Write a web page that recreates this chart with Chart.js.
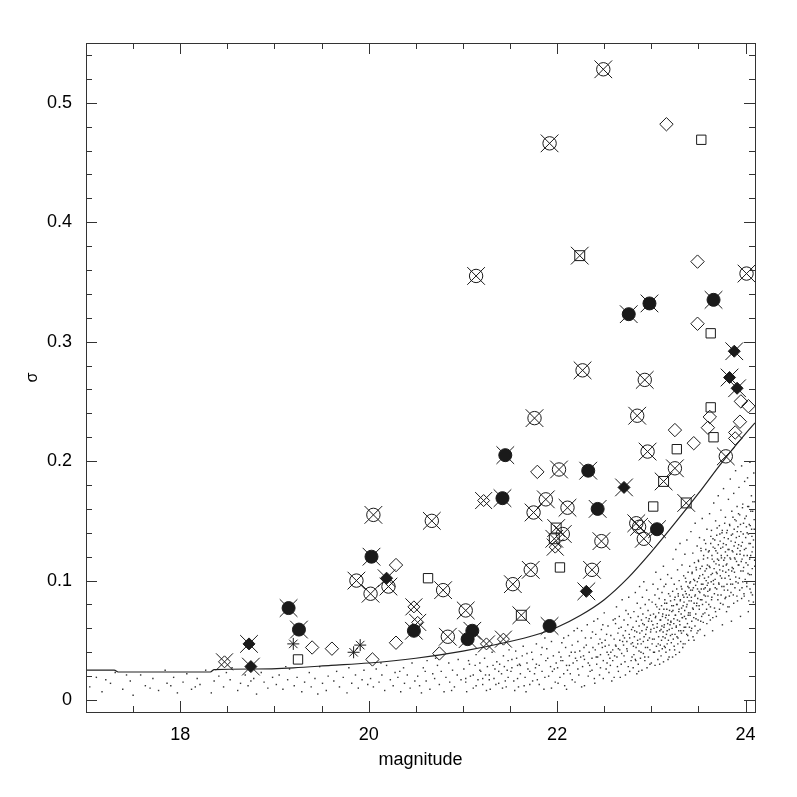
<!DOCTYPE html>
<html>
<head>
<meta charset="utf-8">
<script src="https://cdn.jsdelivr.net/npm/chart.js@4.4.1/dist/chart.umd.min.js"></script>
<style>
  html, body { margin: 0; padding: 0; background: #fff; }
</style>
</head>
<body>
<canvas id="sigmaChart" width="797" height="797"></canvas>
<script>
// axis ticks
const xTickValues = [17.5, 18, 18.5, 19, 19.5, 20, 20.5, 21, 21.5, 22, 22.5, 23, 23.5, 24];
const xLabelValues = [18, 20, 22, 24];
const yTickValues = [0, 0.02, 0.04, 0.06, 0.08, 0.1, 0.12, 0.14, 0.16, 0.18, 0.2, 0.22, 0.24, 0.26,
  0.28, 0.3, 0.32, 0.34, 0.36, 0.38, 0.4, 0.42, 0.44, 0.46, 0.48, 0.5, 0.52, 0.54];
const yLabelValues = [0, 0.1, 0.2, 0.3, 0.4, 0.5];

// expected sigma curve
const curveMag = [17.0, 17.30, 17.34, 18.32, 18.36, 18.8, 19.2, 19.6, 20.0, 20.5, 21.0, 21.5, 21.75,
  22.0, 22.25, 22.5, 22.75, 23.0, 23.25, 23.5, 23.75, 24.0, 24.1];
const curveSigma = [0.025, 0.025, 0.0235, 0.0235, 0.0255, 0.026, 0.027, 0.029, 0.031, 0.035, 0.041, 0.049,
  0.054, 0.061, 0.071, 0.084, 0.102, 0.124, 0.148, 0.173, 0.199, 0.223, 0.232];

// marker groups [magnitude, sigma]
const crossedCircles = [[22.49, 0.528], [21.92, 0.466], [21.14, 0.355], [22.27, 0.276], [24.01, 0.357],
  [22.93, 0.268], [22.85, 0.238], [21.76, 0.236], [22.02, 0.193], [21.88, 0.168], [21.75, 0.157],
  [22.11, 0.161], [22.06, 0.139], [22.47, 0.133], [20.05, 0.155], [20.67, 0.150], [19.87, 0.100],
  [20.21, 0.095], [20.02, 0.089], [20.79, 0.092], [21.72, 0.109], [21.53, 0.097], [22.37, 0.109],
  [21.03, 0.075], [20.84, 0.053], [22.96, 0.208], [23.79, 0.204], [23.25, 0.194], [22.84, 0.148],
  [22.87, 0.145], [22.92, 0.135]];
const filledCircles = [[21.45, 0.205], [22.33, 0.192], [21.42, 0.169], [22.43, 0.160], [20.03, 0.120],
  [19.15, 0.077], [19.26, 0.059], [20.48, 0.058], [21.10, 0.058], [21.05, 0.051], [21.92, 0.062],
  [23.06, 0.143], [23.66, 0.335], [22.98, 0.332], [22.76, 0.323]];
const filledDiamonds = [[18.73, 0.047], [18.75, 0.028], [20.19, 0.102], [22.31, 0.091], [22.71, 0.178],
  [23.88, 0.292], [23.83, 0.270], [23.91, 0.261]];
const openDiamonds = [[23.16, 0.482], [23.49, 0.367], [23.49, 0.315], [21.79, 0.191], [20.29, 0.113],
  [20.29, 0.048], [20.75, 0.039], [20.04, 0.034], [19.40, 0.044], [19.61, 0.043], [23.95, 0.250],
  [24.03, 0.246], [23.62, 0.237], [23.94, 0.233], [23.60, 0.228], [23.89, 0.224], [23.89, 0.219],
  [23.25, 0.226], [23.45, 0.215]];
const openSquares = [[23.53, 0.469], [23.63, 0.307], [20.63, 0.102], [22.03, 0.111], [19.25, 0.034],
  [23.63, 0.245], [23.66, 0.220], [23.27, 0.210], [23.02, 0.162]];
const crossedSquares = [[22.24, 0.372], [21.99, 0.144], [21.97, 0.135], [21.62, 0.071], [23.13, 0.183],
  [23.37, 0.165]];
const crossedDiamonds = [[18.47, 0.032], [21.22, 0.167], [21.98, 0.128], [20.48, 0.078], [20.52, 0.065],
  [21.25, 0.047], [21.43, 0.051]];
const stars = [[19.20, 0.047], [19.91, 0.046], [19.84, 0.040]];

// faint field objects under the curve
const fieldDots = [
  [17.04, .011], [17.11, .019], [17.17, .007], [17.26, .014], [17.31, .023], [17.39, .009], [17.47, .016],
  [17.5, .004], [17.58, .021], [17.63, .012], [17.71, .018], [17.77, .008], [17.84, .025], [17.86, .014],
  [17.93, .019], [17.97, .006], [17.21, .017], [17.68, .010], [17.43, .021], [17.9, .012],
  [18.03, .015], [18.07, .022], [18.12, .009], [18.18, .018], [18.21, .013], [18.27, .025], [18.33, .006],
  [18.36, .016], [18.41, .020], [18.46, .011], [18.53, .017], [18.55, .027], [18.61, .008], [18.64, .014],
  [18.69, .021], [18.72, .012], [18.78, .018], [18.81, .005], [18.86, .023], [18.89, .015], [18.93, .010],
  [18.98, .019], [18.16, .011], [18.49, .023], [18.75, .016],
  [19.02, .013], [19.05, .021], [19.09, .009], [19.14, .017], [19.16, .026], [19.21, .012], [19.24, .019],
  [19.29, .007], [19.32, .015], [19.37, .023], [19.39, .011], [19.43, .018], [19.48, .028], [19.51, .014],
  [19.55, .008], [19.57, .020], [19.63, .016], [19.66, .024], [19.69, .011], [19.73, .019], [19.77, .006],
  [19.79, .027], [19.82, .014], [19.86, .021], [19.89, .010], [19.93, .017], [19.95, .025], [19.99, .013],
  [19.46, .005], [19.12, .028],
  [20.02, .018], [20.05, .011], [20.08, .026], [20.11, .015], [20.14, .021], [20.17, .008], [20.19, .029],
  [20.23, .017], [20.26, .012], [20.28, .023], [20.31, .019], [20.34, .007], [20.37, .027], [20.38, .014],
  [20.41, .021], [20.44, .010], [20.46, .031], [20.49, .016], [20.13, .031], [20.33, .024],
  [20.52, .020], [20.54, .012], [20.58, .027], [20.61, .016], [20.62, .033], [20.65, .009], [20.68, .022],
  [20.7, .018], [20.73, .029], [20.75, .013], [20.77, .024], [20.8, .007], [20.82, .019], [20.85, .031],
  [20.86, .015], [20.89, .025], [20.91, .011], [20.94, .021], [20.95, .034], [20.98, .017], [20.56, .006],
  [20.71, .035], [20.88, .008], [20.6, .024],
  [21.01, .026], [21.03, .015], [21.06, .033], [21.08, .020], [21.11, .010], [21.13, .029], [21.14, .038],
  [21.16, .017], [21.19, .024], [21.21, .013], [21.23, .035], [21.24, .021], [21.26, .028], [21.29, .009],
  [21.31, .040], [21.33, .018], [21.34, .026], [21.36, .032], [21.38, .014], [21.41, .022], [21.43, .037],
  [21.44, .028], [21.46, .011], [21.48, .019], [21.49, .042], [21.04, .007], [21.18, .031], [21.28, .017],
  [21.39, .030], [21.47, .025],
  [21.51, .024], [21.52, .034], [21.54, .016], [21.56, .041], [21.58, .029], [21.59, .011], [21.61, .022],
  [21.63, .037], [21.64, .045], [21.66, .019], [21.68, .031], [21.69, .026], [21.71, .013], [21.73, .040],
  [21.74, .034], [21.76, .022], [21.78, .047], [21.79, .017], [21.81, .029], [21.83, .038], [21.84, .024],
  [21.86, .009], [21.88, .033], [21.89, .043], [21.91, .020], [21.93, .028], [21.94, .049], [21.96, .037],
  [21.98, .015], [21.99, .031], [21.57, .035], [21.67, .007], [21.77, .027], [21.87, .052], [21.6, .030],
  [21.95, .024],
  [22.005, .027], [22.02, .040], [22.03, .019], [22.05, .048], [22.06, .033], [22.08, .012], [22.09, .044],
  [22.1, .029], [22.12, .054], [22.13, .037], [22.14, .022], [22.16, .046], [22.17, .031], [22.18, .058],
  [22.19, .015], [22.04, .036], [22.11, .025], [22.15, .040], [22.07, .052], [22.195, .035],
  [22.21, .033], [22.22, .049], [22.23, .021], [22.24, .041], [22.26, .058], [22.27, .028], [22.28, .037],
  [22.29, .012], [22.31, .046], [22.32, .063], [22.33, .031], [22.34, .040], [22.35, .024], [22.36, .052],
  [22.37, .035], [22.38, .044], [22.39, .066], [22.395, .018], [22.25, .036], [22.3, .052], [22.215, .060],
  [22.345, .029], [22.285, .044], [22.375, .057],
  [22.405, .042], [22.41, .055], [22.42, .030], [22.43, .068], [22.44, .047], [22.45, .021], [22.46, .038],
  [22.47, .059], [22.48, .044], [22.49, .033], [22.5, .073], [22.51, .050], [22.52, .026], [22.53, .040],
  [22.54, .062], [22.55, .046], [22.56, .035], [22.57, .054], [22.58, .016], [22.59, .042], [22.595, .067],
  [22.415, .036], [22.455, .051], [22.485, .063], [22.525, .055], [22.565, .029], [22.545, .038], [22.475, .048],
  [22.605, .051], [22.61, .037], [22.62, .064], [22.625, .045], [22.63, .078], [22.64, .028], [22.645, .056],
  [22.65, .043], [22.66, .070], [22.665, .050], [22.67, .019], [22.68, .061], [22.685, .039], [22.69, .084],
  [22.7, .054], [22.705, .046], [22.71, .067], [22.72, .032], [22.725, .058], [22.73, .075], [22.74, .049],
  [22.745, .041], [22.75, .063], [22.76, .086], [22.765, .055], [22.77, .024], [22.78, .069], [22.785, .047],
  [22.79, .059], [22.795, .036], [22.655, .060], [22.715, .052], [22.755, .072], [22.615, .068],
  [22.805, .061], [22.81, .045], [22.815, .074], [22.82, .053], [22.83, .090], [22.835, .033], [22.84, .066],
  [22.845, .057], [22.85, .081], [22.855, .047], [22.86, .070], [22.865, .024], [22.87, .062], [22.875, .095],
  [22.88, .051], [22.885, .077], [22.89, .040], [22.895, .067], [22.9, .058], [22.905, .086], [22.91, .072],
  [22.915, .049], [22.92, .099], [22.925, .063], [22.93, .036], [22.935, .080], [22.94, .055], [22.945, .069],
  [22.95, .092], [22.955, .061], [22.96, .044], [22.965, .075], [22.97, .066], [22.975, .084], [22.98, .052],
  [22.985, .030], [22.99, .071], [22.995, .059],
  [23.003, .066], [23.008, .082], [23.013, .051], [23.018, .097], [23.023, .072], [23.028, .060], [23.033, .040],
  [23.038, .088], [23.043, .069], [23.048, .107], [23.053, .057], [23.058, .078], [23.063, .064], [23.068, .093],
  [23.073, .047], [23.078, .073], [23.083, .085], [23.088, .030], [23.093, .067], [23.098, .101], [23.103, .059],
  [23.108, .079], [23.113, .090], [23.118, .070], [23.123, .053], [23.128, .112], [23.133, .076], [23.138, .063],
  [23.143, .084], [23.148, .044], [23.153, .097], [23.158, .071], [23.163, .081], [23.168, .058], [23.173, .105],
  [23.178, .067], [23.183, .089], [23.188, .036], [23.193, .075], [23.198, .063], [23.135, .095], [23.045, .080],
  [23.204, .083], [23.208, .065], [23.213, .102], [23.217, .074], [23.221, .055], [23.226, .091], [23.23, .118],
  [23.234, .079], [23.239, .068], [23.243, .097], [23.247, .042], [23.252, .086], [23.256, .071], [23.26, .126],
  [23.265, .062], [23.269, .093], [23.273, .080], [23.278, .109], [23.282, .052], [23.286, .087], [23.291, .074],
  [23.295, .100], [23.299, .066], [23.304, .131], [23.308, .084], [23.312, .058], [23.317, .095], [23.321, .077],
  [23.325, .113], [23.33, .069], [23.334, .088], [23.338, .047], [23.343, .104], [23.347, .082], [23.351, .070],
  [23.356, .122], [23.36, .091], [23.364, .061], [23.369, .099], [23.373, .078], [23.377, .134], [23.382, .086],
  [23.386, .054], [23.39, .107], [23.395, .073], [23.399, .094],
  [23.403, .088], [23.407, .112], [23.411, .071], [23.415, .099], [23.42, .141], [23.424, .083], [23.428, .060],
  [23.432, .106], [23.436, .092], [23.44, .123], [23.445, .076], [23.449, .101], [23.453, .050], [23.457, .115],
  [23.461, .087], [23.465, .148], [23.47, .096], [23.474, .068], [23.478, .109], [23.482, .081], [23.486, .129],
  [23.49, .093], [23.495, .058], [23.499, .117], [23.503, .102], [23.507, .079], [23.511, .136], [23.515, .090],
  [23.52, .110], [23.524, .066], [23.528, .125], [23.532, .097], [23.536, .084], [23.54, .152], [23.545, .105],
  [23.549, .072], [23.553, .118], [23.557, .093], [23.561, .134], [23.565, .054], [23.57, .108], [23.574, .087],
  [23.578, .126], [23.582, .100], [23.586, .076], [23.59, .143], [23.595, .113], [23.599, .091],
  [23.602, .098], [23.606, .124], [23.61, .080], [23.614, .112], [23.618, .156], [23.622, .093], [23.626, .067],
  [23.63, .131], [23.634, .105], [23.638, .142], [23.642, .086], [23.646, .118], [23.65, .058], [23.654, .135],
  [23.658, .100], [23.662, .165], [23.666, .110], [23.67, .077], [23.674, .127], [23.678, .094], [23.682, .150],
  [23.686, .114], [23.69, .070], [23.694, .138], [23.698, .106], [23.702, .123], [23.706, .088], [23.71, .171],
  [23.714, .117], [23.718, .097], [23.722, .146], [23.726, .109], [23.73, .133], [23.734, .081], [23.738, .159],
  [23.742, .121], [23.746, .102], [23.75, .140], [23.754, .063], [23.758, .128], [23.762, .112], [23.766, .177],
  [23.77, .095], [23.774, .136], [23.778, .119], [23.782, .085], [23.786, .153], [23.79, .107], [23.794, .130],
  [23.798, .074],
  [23.802, .114], [23.806, .142], [23.81, .092], [23.814, .126], [23.818, .168], [23.822, .104], [23.826, .078],
  [23.83, .147], [23.834, .119], [23.838, .185], [23.842, .097], [23.846, .133], [23.85, .066], [23.854, .158],
  [23.858, .111], [23.862, .139], [23.866, .124], [23.87, .088], [23.874, .173], [23.878, .129], [23.882, .107],
  [23.886, .151], [23.89, .118], [23.894, .192], [23.898, .099], [23.902, .136], [23.906, .122], [23.91, .162],
  [23.914, .083], [23.918, .145], [23.922, .113], [23.926, .130], [23.93, .178], [23.934, .102], [23.938, .155],
  [23.942, .125], [23.946, .070], [23.95, .141], [23.954, .116], [23.958, .196], [23.962, .094], [23.966, .132],
  [23.97, .164], [23.974, .108], [23.978, .148], [23.982, .121], [23.986, .087], [23.99, .183],
  [24.004, .127], [24.008, .154], [24.012, .098], [24.017, .140], [24.021, .186], [24.025, .113], [24.029, .074],
  [24.033, .162], [24.037, .131], [24.042, .105], [24.046, .199], [24.05, .146], [24.054, .121], [24.058, .090],
  [24.062, .171], [24.067, .137], [24.071, .110], [24.075, .158], [24.079, .128], [24.083, .082], [24.087, .190],
  [24.092, .143], [24.096, .117], [24.099, .166],
  // denser core of the cloud
  [24.097, .112], [24.091, .151], [24.088, .097], [24.084, .134], [24.078, .166], [24.073, .088], [24.069, .124],
  [24.064, .143], [24.06, .105], [24.056, .158], [24.051, .131], [24.047, .093], [24.043, .118], [24.039, .147],
  [24.034, .083], [24.03, .139], [24.026, .106], [24.022, .162], [24.018, .121], [24.013, .095], [24.009, .145],
  [24.005, .115], [24.001, .136], [23.996, .101], [23.992, .152], [23.988, .126], [23.983, .089], [23.979, .111],
  [23.975, .139], [23.971, .099], [23.967, .161], [23.963, .118], [23.958, .085], [23.954, .129], [23.95, .108],
  [23.946, .147], [23.941, .122], [23.937, .092], [23.933, .137], [23.929, .113], [23.925, .156], [23.921, .098],
  [23.916, .127], [23.912, .141], [23.908, .087], [23.904, .116], [23.9, .150], [23.895, .103], [23.891, .132],
  [23.887, .094], [23.883, .119], [23.879, .143], [23.874, .081], [23.87, .110], [23.866, .153], [23.862, .097],
  [23.858, .125], [23.853, .108], [23.849, .138], [23.845, .090],
  [23.841, .118], [23.837, .101], [23.832, .146], [23.828, .087], [23.824, .126], [23.82, .109], [23.816, .135],
  [23.811, .078], [23.807, .121], [23.803, .097], [23.799, .140], [23.795, .113], [23.79, .086], [23.786, .124],
  [23.782, .102], [23.778, .148], [23.774, .092], [23.769, .117], [23.765, .131], [23.761, .080], [23.757, .108],
  [23.753, .142], [23.748, .095], [23.744, .119], [23.74, .088], [23.736, .127], [23.732, .104], [23.727, .139],
  [23.723, .076], [23.719, .113], [23.715, .098], [23.711, .130], [23.706, .084], [23.702, .118], [23.698, .144],
  [23.694, .093], [23.69, .107], [23.685, .125], [23.681, .074], [23.677, .101], [23.673, .134], [23.669, .089],
  [23.664, .116], [23.66, .097], [23.656, .128], [23.652, .069], [23.648, .106], [23.643, .121], [23.639, .084],
  [23.635, .099], [23.631, .137], [23.627, .078], [23.622, .111], [23.618, .092], [23.614, .125], [23.61, .071],
  [23.606, .103], [23.601, .087], [23.597, .119], [23.593, .096], [23.589, .064], [23.585, .110], [23.58, .082],
  [23.576, .131], [23.572, .094],
  [23.568, .073], [23.564, .102], [23.559, .088], [23.555, .121], [23.551, .065], [23.547, .097], [23.543, .080],
  [23.538, .112], [23.534, .070], [23.53, .093], [23.526, .127], [23.522, .084], [23.517, .059], [23.513, .104],
  [23.509, .076], [23.505, .091], [23.501, .116], [23.496, .067], [23.492, .085], [23.488, .099], [23.484, .056],
  [23.48, .079], [23.475, .111], [23.471, .072], [23.467, .088], [23.463, .062], [23.459, .100], [23.454, .081],
  [23.45, .069], [23.446, .094], [23.442, .053], [23.438, .077], [23.433, .107], [23.429, .066], [23.425, .086],
  [23.421, .058], [23.417, .092], [23.412, .073], [23.408, .098], [23.404, .061], [23.4, .083], [23.396, .050],
  [23.391, .071], [23.387, .095], [23.383, .064], [23.379, .080], [23.375, .055], [23.37, .089], [23.366, .068],
  [23.362, .102], [23.358, .047], [23.354, .075], [23.349, .061], [23.345, .086], [23.341, .058], [23.337, .079],
  [23.333, .044], [23.328, .069], [23.324, .093], [23.32, .056],
  [23.316, .072], [23.311, .049], [23.307, .083], [23.303, .063], [23.298, .040], [23.294, .076], [23.29, .058],
  [23.285, .089], [23.281, .047], [23.277, .067], [23.272, .053], [23.268, .080], [23.264, .061], [23.259, .038],
  [23.255, .071], [23.251, .055], [23.246, .084], [23.242, .045], [23.238, .064], [23.233, .051], [23.229, .075],
  [23.225, .036], [23.22, .060], [23.216, .079], [23.212, .048], [23.207, .066], [23.203, .054], [23.199, .087],
  [23.194, .042], [23.19, .059], [23.186, .071], [23.181, .050], [23.177, .034], [23.173, .064], [23.168, .047],
  [23.164, .076], [23.16, .055], [23.155, .040], [23.151, .069], [23.147, .052], [23.142, .081], [23.138, .045],
  [23.134, .061], [23.129, .032], [23.125, .057], [23.121, .072], [23.116, .043], [23.112, .062], [23.108, .050],
  [23.103, .037], [23.099, .067], [23.095, .046], [23.09, .058], [23.086, .076], [23.082, .041],
  [23.077, .053], [23.069, .034], [23.061, .061], [23.054, .045], [23.046, .070], [23.039, .029], [23.031, .051],
  [23.023, .040], [23.016, .063], [23.008, .047], [23.0, .031], [22.992, .057], [22.985, .042], [22.977, .068],
  [22.969, .036], [22.962, .050], [22.954, .027], [22.946, .059], [22.938, .044], [22.931, .033], [22.923, .053],
  [22.915, .039], [22.908, .064], [22.9, .025], [22.892, .047], [22.884, .035], [22.877, .056], [22.869, .041],
  [22.861, .030], [22.854, .050], [22.846, .022], [22.838, .044], [22.83, .034], [22.823, .058], [22.815, .038],
  [22.807, .027], [22.8, .048], [22.785, .033], [22.77, .052], [22.755, .028], [22.74, .043], [22.725, .021],
  [22.71, .037], [22.695, .049], [22.68, .030], [22.665, .042], [22.65, .024], [22.635, .036], [22.62, .046],
  [22.605, .019], [22.59, .033], [22.57, .040], [22.55, .023], [22.53, .031], [22.51, .045], [22.49, .018],
  [22.46, .027], [22.43, .036], [22.4, .014], [22.37, .025],
  [22.33, .020], [22.29, .034], [22.26, .011], [22.22, .026], [22.19, .040], [22.16, .017], [22.13, .029],
  [22.1, .009], [22.07, .022], [22.04, .033], [22.01, .014], [21.97, .026], [21.94, .010], [21.9, .035],
  [21.87, .019], [21.84, .044], [21.81, .013], [21.78, .030], [21.74, .016], [21.71, .024], [21.68, .039],
  [21.65, .012], [21.61, .029], [21.58, .018], [21.55, .008], [21.52, .027], [21.48, .033], [21.45, .016],
  [21.42, .010], [21.38, .024], [21.35, .013], [21.32, .029], [21.28, .021], [21.25, .008], [21.21, .018],
  [21.18, .025], [21.14, .012], [21.11, .021], [21.07, .030], [21.03, .018]
];

const ink = '#1a1a1a';

function toPoints(list) {
  return list.map(p => ({ x: p[0], y: p[1] }));
}

// one layer of markers
function markerLayer(list, style, radius, filled) {
  return {
    data: toPoints(list),
    pointStyle: style,
    pointRadius: radius,
    pointBorderColor: ink,
    pointBackgroundColor: filled ? ink : 'rgba(0,0,0,0)',
    pointBorderWidth: 1,
    showLine: false,
    clip: 0
  };
}

// frame + inward ticks on all four sides
const frameTicks = {
  id: 'frameTicks',
  afterDraw(chart) {
    const { ctx, chartArea: a, scales: { x, y } } = chart;
    ctx.save();
    ctx.strokeStyle = '#333';
    ctx.lineWidth = 1;
    ctx.beginPath();
    xTickValues.forEach(v => {
      const px = Math.round(x.getPixelForValue(v)) + 0.5;
      const len = xLabelValues.includes(v) ? 11 : 6;
      ctx.moveTo(px, a.bottom); ctx.lineTo(px, a.bottom - len);
      ctx.moveTo(px, a.top); ctx.lineTo(px, a.top + len);
    });
    yTickValues.forEach(v => {
      const py = Math.round(y.getPixelForValue(v)) + 0.5;
      const len = yLabelValues.includes(v) ? 11 : 6;
      ctx.moveTo(a.left, py); ctx.lineTo(a.left + len, py);
      ctx.moveTo(a.right, py); ctx.lineTo(a.right - len, py);
    });
    ctx.stroke();
    ctx.strokeRect(Math.round(a.left) + 0.5, Math.round(a.top) + 0.5,
      Math.round(a.right - a.left), Math.round(a.bottom - a.top));
    ctx.restore();
  }
};

const ctx = document.getElementById('sigmaChart');

new Chart(ctx, {
  type: 'scatter',
  data: {
    datasets: [
      markerLayer(stars, 'star', 6, false),
      markerLayer(crossedCircles, 'crossRot', 12.5, false),
      markerLayer(filledCircles, 'crossRot', 12.5, false),
      markerLayer(filledDiamonds, 'crossRot', 12.5, false),
      markerLayer(crossedSquares, 'crossRot', 12.5, false),
      markerLayer(crossedDiamonds, 'crossRot', 12, false),
      markerLayer(crossedCircles, 'circle', 6.7, false),
      markerLayer(filledCircles, 'circle', 6.5, true),
      markerLayer(filledDiamonds, 'rectRot', 6, true),
      markerLayer(crossedSquares, 'rect', 7, false),
      markerLayer(crossedDiamonds, 'rectRot', 6, false),
      markerLayer(openDiamonds, 'rectRot', 6.7, false),
      markerLayer(openSquares, 'rect', 6.6, false),
      {
        type: 'line',
        data: curveMag.map((m, i) => ({ x: m, y: curveSigma[i] })),
        borderColor: '#222',
        borderWidth: 1.2,
        pointRadius: 0,
        cubicInterpolationMode: 'monotone',
        fill: false,
        clip: 0
      },
      {
        data: toPoints(fieldDots),
        pointStyle: 'rect',
        pointRadius: 1,
        pointBorderWidth: 0,
        pointBackgroundColor: '#333',
        showLine: false,
        clip: 0
      }
    ]
  },
  options: {
    responsive: false,
    animation: false,
    events: [],
    layout: { padding: { left: 0, top: 43, right: 42, bottom: 0 } },
    plugins: {
      legend: { display: false },
      tooltip: { enabled: false }
    },
    scales: {
      x: {
        type: 'linear',
        min: 17,
        max: 24.1,
        grid: { display: false, drawTicks: false },
        border: { display: false },
        afterBuildTicks: s => { s.ticks = xLabelValues.map(v => ({ value: v })); },
        afterFit: s => { s.height = 85; },
        ticks: {
          padding: 12,
          color: '#000',
          maxRotation: 0,
          autoSkip: false,
          font: { family: 'Liberation Sans, Arial, sans-serif', size: 18 },
          callback: v => String(v)
        },
        title: {
          display: true,
          text: 'magnitude',
          color: '#000',
          padding: { top: 0, bottom: 26 },
          font: { family: 'Liberation Sans, Arial, sans-serif', size: 18 }
        }
      },
      y: {
        type: 'linear',
        min: -0.01,
        max: 0.55,
        grid: { display: false, drawTicks: false },
        border: { display: false },
        afterBuildTicks: s => { s.ticks = yLabelValues.map(v => ({ value: v })); },
        afterFit: s => { s.width = 86; },
        ticks: {
          padding: 14,
          color: '#000',
          autoSkip: false,
          font: { family: 'Liberation Sans, Arial, sans-serif', size: 18 },
          callback: v => String(v)
        },
        title: {
          display: true,
          text: 'σ',
          color: '#000',
          padding: { top: 23, bottom: 0 },
          font: { family: 'Liberation Sans, Arial, sans-serif', size: 16 }
        }
      }
    }
  },
  plugins: [frameTicks]
});
</script>
</body>
</html>
